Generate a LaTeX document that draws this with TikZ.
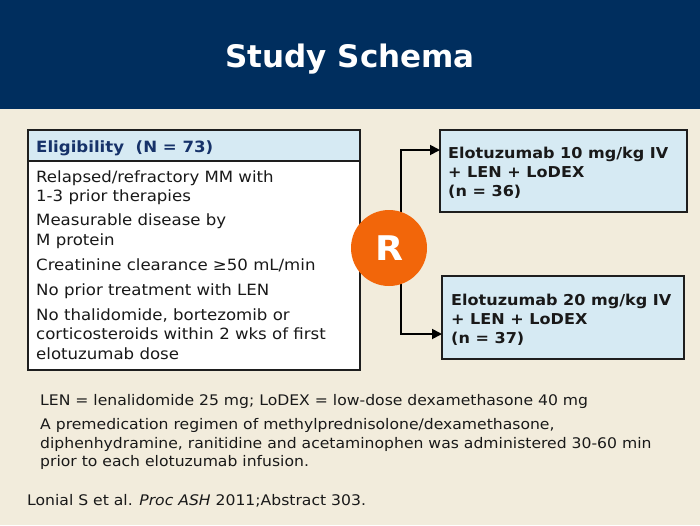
\documentclass[tikz,border=0pt]{standalone}
\usepackage{fontspec}
\setmainfont{DejaVu Sans}[FakeStretch=1.07]
\newfontfamily\titlefont{DejaVu Sans}
\usetikzlibrary{arrows.meta,calc}
\definecolor{hdrblue}{RGB}{0,46,94}
\definecolor{beige}{RGB}{242,236,220}
\definecolor{lightblue}{RGB}{214,234,243}
\definecolor{titleblue}{RGB}{22,50,105}
\definecolor{rorange}{RGB}{242,102,10}
\definecolor{boxline}{RGB}{30,30,30}
\tikzset{
  boxframe/.style={draw=boxline, line width=1.4pt, inner sep=0pt, outer sep=0pt, anchor=north west},
  bodytext/.style={anchor=base west, inner sep=0pt, font=\fontsize{15.5}{19}\selectfont, text=black!90},
  armtext/.style={anchor=base west, inner sep=0pt, font=\bfseries\fontsize{15}{19}\selectfont, text=black!90},
  foottext/.style={anchor=base west, inner sep=0pt, font=\fontsize{14.6}{19}\selectfont, text=black!90},
  conn/.style={draw=black, line width=1.8pt, -{Triangle[length=10pt,width=10pt]}},
}
\begin{document}
\begin{tikzpicture}[x=1pt,y=-1pt]
\useasboundingbox (0,0) rectangle (700,525);
\fill[beige] (0,0) rectangle (700,525);
\fill[hdrblue] (0,0) rectangle (700,109);
\node[anchor=base, text=white, font=\titlefont\bfseries\fontsize{31}{36}\selectfont, inner sep=0pt] (title) at (350,67) {Study Schema};

% eligibility box
\node[boxframe, fill=white, minimum width=332pt, minimum height=240pt] (elig) at (28,130) {};
\node[boxframe, fill=lightblue, minimum width=332pt, minimum height=31pt] (eligh) at (28,130) {};
\node[anchor=base west, inner sep=0pt, text=titleblue, font=\bfseries\fontsize{15.5}{19}\selectfont] (eligt) at (36,152) {Eligibility\ \ (N = 73)};
\node[bodytext] (e1) at (36,182) {Relapsed/refractory MM with};
\node[bodytext] (e2) at (36,201) {1-3 prior therapies};
\node[bodytext] (e3) at (36,225) {Measurable disease by};
\node[bodytext] (e4) at (36,245) {M protein};
\node[bodytext] (e5) at (36,270) {Creatinine clearance ≥50 mL/min};
\node[bodytext] (e6) at (36,295) {No prior treatment with LEN};
\node[bodytext] (e7) at (36,320) {No thalidomide, bortezomib or};
\node[bodytext] (e8) at (36,339) {corticosteroids within 2 wks of first};
\node[bodytext] (e9) at (36,359) {elotuzumab dose};

% arm boxes
\node[boxframe, fill=lightblue, minimum width=247pt, minimum height=82pt] (arm1) at (440,130) {};
\node[armtext] (a1) at (448,158) {Elotuzumab 10 mg/kg IV};
\node[armtext] (a2) at (448,177) {+ LEN + LoDEX};
\node[armtext] (a3) at (448,196) {(n = 36)};
\node[boxframe, fill=lightblue, minimum width=242pt, minimum height=83pt] (arm2) at (442,276) {};
\node[armtext] (b1) at (451,305) {Elotuzumab 20 mg/kg IV};
\node[armtext] (b2) at (451,324) {+ LEN + LoDEX};
\node[armtext] (b3) at (451,343) {(n = 37)};

% connectors
\coordinate (s1) at (401,248);
\coordinate (t1) at ($(arm1.north west)+(0,20)$);
\coordinate (t2) at ($(arm2.north west)+(0,58)$);
\draw[conn] (s1) |- (t1);
\draw[conn] (s1) |- (t2);
\node[circle, fill=rorange, minimum size=76pt, inner sep=0pt, text=white, font=\bfseries\fontsize{34}{40}\selectfont] (R) at (389,248) {R};

% footnotes
\node[foottext] (f1) at (40,405) {LEN = lenalidomide 25 mg; LoDEX = low-dose dexamethasone 40 mg};
\node[foottext] (f2) at (40,429) {A premedication regimen of methylprednisolone/dexamethasone,};
\node[foottext] (f3) at (40,448) {diphenhydramine, ranitidine and acetaminophen was administered 30-60 min};
\node[foottext] (f4) at (40,466) {prior to each elotuzumab infusion.};
\node[foottext] (ref) at (27,505) {Lonial S et al. \textit{Proc ASH} 2011;Abstract 303.};
\end{tikzpicture}
\end{document}
